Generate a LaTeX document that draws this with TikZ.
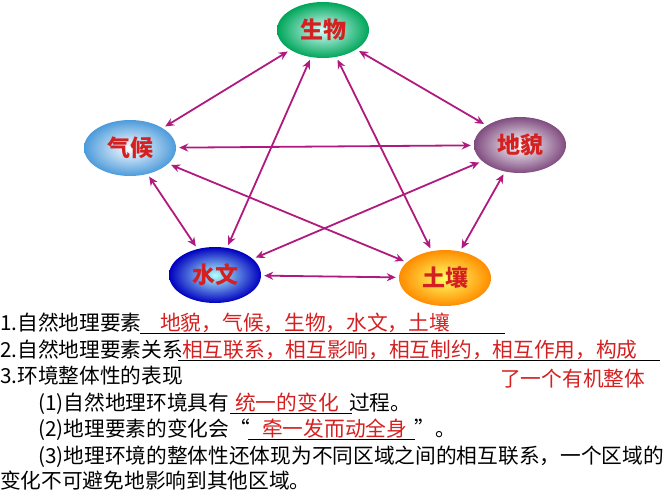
\documentclass[tikz,border=0pt]{standalone}
\usepackage{fontspec}
\setmainfont{Liberation Serif}
\newfontfamily\cjk{Noto Sans CJK SC}
\usetikzlibrary{shapes.geometric,arrows.meta}
\definecolor{arr}{HTML}{B01A7E}
\definecolor{redt}{HTML}{D42020}
\tikzset{
 el/.style={ellipse,minimum width=92pt,minimum height=56pt,draw=none,font=\cjk\fontsize{23}{23}\selectfont\bfseries,text=redt},
 lk/.style={arr,line width=1.8pt,{Stealth[length=9pt,width=8pt]}-{Stealth[length=9pt,width=8pt]},shorten <=3pt,shorten >=3pt},
 tx/.style={anchor=base west,inner sep=0pt,font=\cjk\fontsize{20.7}{20.7}\selectfont},
 rt/.style={tx,text=redt},
 ul/.style={line width=0.8pt}
}
\begin{document}
\begin{tikzpicture}[x=1pt,y=-1pt]
\useasboundingbox (0,0) rectangle (667,500);
\node[el,shading=radial,inner color=white!85!cyan,outer color=teal!70!green] (sw) at (323,30) {生物};
\node[el,shading=radial,inner color=white,outer color=blue!45!cyan!80!black!70] (qh) at (130,148) {气候};
\node[el,shading=radial,inner color=white,outer color=violet!40!gray] (dm) at (520,145) {地貌};
\node[el,shading=radial,inner color=cyan!30,outer color=blue!75!black] (sh) at (215,275) {水文};
\node[el,shading=radial,inner color=yellow!60,outer color=orange!90!yellow] (tr) at (445,278) {土壤};
\draw[lk] (sw) -- (qh);
\draw[lk] (sw) -- (dm);
\draw[lk] (sw) -- (sh);
\draw[lk] (sw) -- (tr);
\draw[lk] (qh) -- (dm);
\draw[lk] (qh) -- (sh);
\draw[lk] (qh) -- (tr);
\draw[lk] (dm) -- (sh);
\draw[lk] (dm) -- (tr);
\draw[lk] (sh) -- (tr);
\node[tx] (l1) at (0,330) {1.自然地理要素};
\coordinate (u1a) at (140,333); \coordinate (u1b) at (505,333);
\draw[ul] (u1a) -- (u1b);
\node[rt] (r1) at (160,330) {地貌，气候，生物，水文，土壤};
\node[tx] (l2) at (0,357) {2.自然地理要素关系};
\coordinate (u2a) at (178,360); \coordinate (u2b) at (660,360);
\draw[ul] (u2a) -- (u2b);
\node[rt] (r2) at (182,357) {相互联系，相互影响，相互制约，相互作用，构成};
\node[tx] (l3) at (0,383) {3.环境整体性的表现};
\node[rt] (r3) at (500,386) {了一个有机整体};
\node[tx] (l4) at (38,410) {(1)自然地理环境具有\hspace{120pt}过程。};
\coordinate (u4a) at (230,413); \coordinate (u4b) at (352,413);
\draw[ul] (u4a) -- (u4b);
\node[rt] (r4) at (235,410) {统一的变化};
\node[tx] (l5) at (38,436) {(2)地理要素的变化会“\hspace{165pt}”。};
\coordinate (u5a) at (248,439); \coordinate (u5b) at (415,439);
\draw[ul] (u5a) -- (u5b);
\node[rt] (r5) at (262,436) {牵一发而动全身};
\node[tx] (l6) at (38,463) {(3)地理环境的整体性还体现为不同区域之间的相互联系，一个区域的};
\node[tx] (l7) at (0,488) {变化不可避免地影响到其他区域。};
\end{tikzpicture}
\end{document}
